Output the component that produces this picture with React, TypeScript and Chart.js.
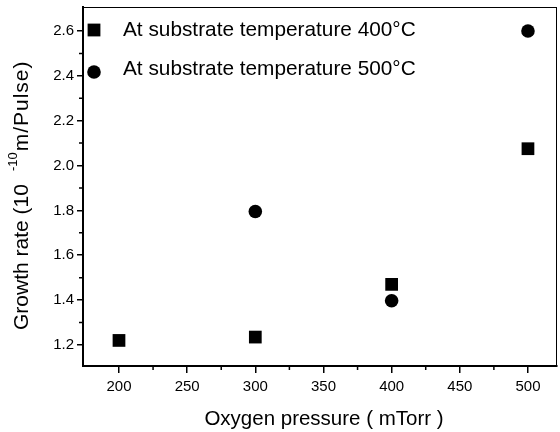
import React, { useEffect, useRef } from "react";
import { Chart, registerables } from "chart.js";

Chart.register(...registerables);

const pressures400 = [200, 300, 400, 500];
const rates400 = [1.22, 1.235, 1.47, 2.075];
const pressures500 = [300, 400, 500];
const rates500 = [1.795, 1.397, 2.6];

const xTicks = [200, 250, 300, 350, 400, 450, 500];
const xMinorTicks = [225, 275, 325, 375, 425, 475];
const yTicks = [1.2, 1.4, 1.6, 1.8, 2.0, 2.2, 2.4, 2.6];
const yMinorTicks = [1.3, 1.5, 1.7, 1.9, 2.1, 2.3, 2.5];

const legendLabels = [
  "At substrate temperature 400°C",
  "At substrate temperature 500°C",
];
const xTitle = "Oxygen pressure ( mTorr )";
const yTitleParts = ["Growth rate (10", "-10", "m/Pulse)"];

const FONT = "'Liberation Sans', Arial, sans-serif";

const decorPlugin = {
  id: "decor",
  afterDraw(chart: any) {
    const ctx = chart.ctx;
    const area = chart.chartArea;
    const xs = chart.scales.x;
    const ys = chart.scales.y;
    ctx.save();
    ctx.strokeStyle = "#000";
    // top & right frame
    ctx.lineWidth = 1;
    ctx.beginPath();
    ctx.moveTo(area.left, area.top + 0.5);
    ctx.lineTo(area.right, area.top + 0.5);
    ctx.moveTo(area.right - 0.5, area.top);
    ctx.lineTo(area.right - 0.5, area.bottom);
    ctx.stroke();
    // minor ticks
    ctx.lineWidth = 1.5;
    ctx.beginPath();
    xMinorTicks.forEach((v) => {
      const px = xs.getPixelForValue(v);
      ctx.moveTo(px, area.bottom);
      ctx.lineTo(px, area.bottom + 4);
    });
    yMinorTicks.forEach((v) => {
      const py = ys.getPixelForValue(v);
      ctx.moveTo(area.left, py);
      ctx.lineTo(area.left - 4, py);
    });
    ctx.stroke();

    // legend
    ctx.fillStyle = "#000";
    const lx = 94;
    const ly = [30, 72];
    const s = 6.4;
    ctx.fillRect(lx - s, ly[0] - s, 2 * s, 2 * s);
    ctx.beginPath();
    ctx.arc(lx, ly[1], 6.8, 0, Math.PI * 2);
    ctx.fill();
    ctx.font = `20.8px ${FONT}`;
    ctx.textAlign = "left";
    ctx.textBaseline = "middle";
    ctx.fillText(legendLabels[0], 123, ly[0]);
    ctx.fillText(legendLabels[1], 123, ly[1] - 3);

    // x title
    ctx.font = `20.5px ${FONT}`;
    ctx.textAlign = "center";
    ctx.textBaseline = "middle";
    ctx.fillText(xTitle, 324, 419);

    // y title
    ctx.translate(22, 330);
    ctx.rotate(-Math.PI / 2);
    ctx.textAlign = "left";
    ctx.textBaseline = "middle";
    ctx.font = `21px ${FONT}`;
    let x = 0;
    ctx.fillText(yTitleParts[0], x, 0);
    x += ctx.measureText(yTitleParts[0]).width + 13;
    ctx.font = `13px ${FONT}`;
    ctx.fillText(yTitleParts[1], x, -9);
    x += ctx.measureText(yTitleParts[1]).width + 1;
    ctx.font = `21px ${FONT}`;
    (ctx as any).letterSpacing = "1px";
    ctx.fillText(yTitleParts[2], x, 0);
    ctx.restore();
  },
};

const noPad = (scale: any) => {
  scale.paddingTop = 0;
  scale.paddingBottom = 0;
  scale.paddingLeft = 0;
  scale.paddingRight = 0;
};

export default function App() {
  const ref = useRef<HTMLCanvasElement>(null);
  useEffect(() => {
    if (!ref.current) return;
    const chart = new Chart(ref.current, {
      type: "scatter",
      data: {
        datasets: [
          {
            label: legendLabels[0],
            data: pressures400.map((p, i) => ({ x: p, y: rates400[i] })),
            pointStyle: "rect",
            pointRadius: 9,
            backgroundColor: "#000",
            borderColor: "#000",
            borderWidth: 0,
          },
          {
            label: legendLabels[1],
            data: pressures500.map((p, i) => ({ x: p, y: rates500[i] })),
            pointStyle: "circle",
            pointRadius: 6.8,
            backgroundColor: "#000",
            borderColor: "#000",
            borderWidth: 0,
          },
        ],
      },
      options: {
        responsive: false,
        animation: false,
        devicePixelRatio: 1,
        layout: { autoPadding: false, padding: { top: 7, right: 3, left: 0, bottom: 0 } },
        plugins: {
          legend: { display: false },
          tooltip: { enabled: false },
        },
        scales: {
          x: {
            type: "linear",
            min: 173.6,
            max: 521.3,
            afterBuildTicks: (scale: any) => {
              scale.ticks = xTicks.map((v) => ({ value: v }));
            },
            afterFit: (scale: any) => {
              scale.height = 66;
              noPad(scale);
            },
            grid: {
              drawOnChartArea: false,
              drawTicks: true,
              tickLength: 7,
              color: "#000",
              lineWidth: 1.5,
            },
            border: { display: true, color: "#000", width: 2 },
            ticks: {
              color: "#000",
              font: { family: FONT, size: 15 },
              padding: 5,
              maxRotation: 0,
              callback: (v: any) => String(v),
            },
          },
          y: {
            type: "linear",
            min: 1.106,
            max: 2.707,
            afterBuildTicks: (scale: any) => {
              scale.ticks = yTicks.map((v) => ({ value: v }));
            },
            afterFit: (scale: any) => {
              scale.width = 83;
              noPad(scale);
            },
            grid: {
              drawOnChartArea: false,
              drawTicks: true,
              tickLength: 6,
              color: "#000",
              lineWidth: 1.5,
            },
            border: { display: true, color: "#000", width: 2 },
            ticks: {
              color: "#000",
              font: { family: FONT, size: 15 },
              padding: 3,
              callback: (v: any) => Number(v).toFixed(1),
            },
          },
        },
      },
      plugins: [decorPlugin],
    });
    return () => chart.destroy();
  }, []);
  return (
    <div style={{ position: "absolute", left: 0, top: 0, width: 560, height: 432, background: "#fff" }}>
      <canvas ref={ref} width={560} height={432} />
    </div>
  );
}
